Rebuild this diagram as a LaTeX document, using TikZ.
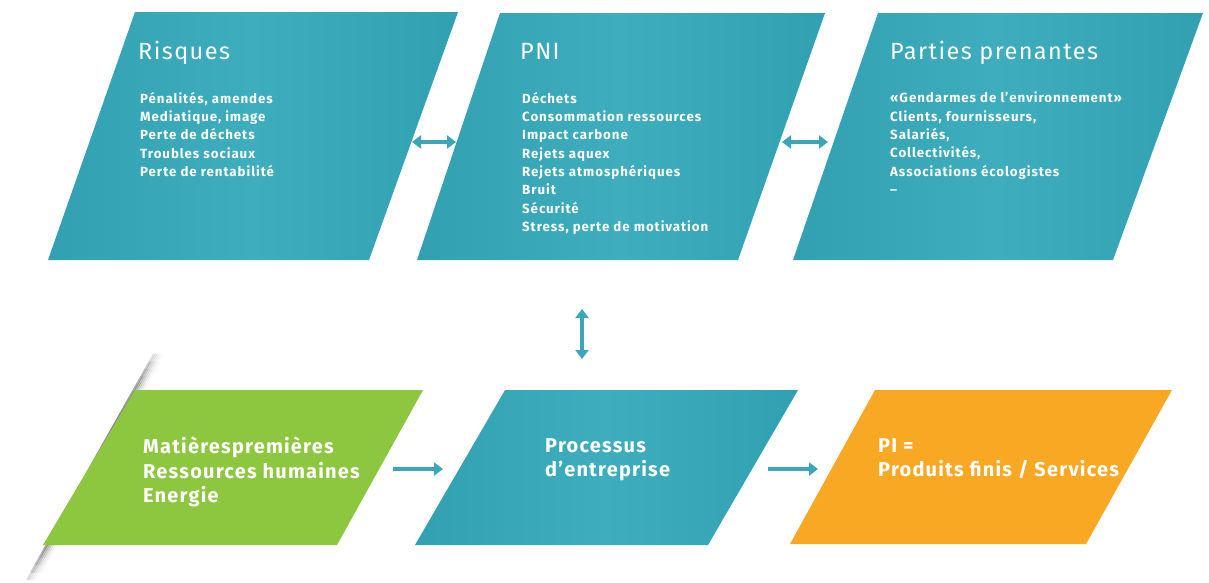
\documentclass[tikz,border=0pt]{standalone}
\usepackage{fontspec}
\setmainfont{Fira Sans}[LetterSpace=4]
\usetikzlibrary{arrows.meta}
\definecolor{tealL}{HTML}{3EADBD}
\definecolor{tealD}{HTML}{31A1B2}
\definecolor{arrowc}{HTML}{3AA6B7}
\definecolor{greenB}{HTML}{8DC63F}
\definecolor{orangeB}{HTML}{F9A823}
\begin{document}
\begin{tikzpicture}[x=1pt,y=-1pt,
  tealbox/.style={left color=tealD,right color=tealD,middle color=tealL,shading angle=90},
  title/.style={anchor=base west,text=white,inner sep=0pt,font=\fontsize{23.5}{26}\selectfont\addfontfeatures{LetterSpace=6}},
  body/.style={anchor=north west,align=left,text=white,inner sep=0pt,font=\bfseries\fontsize{13.3}{18.3}\selectfont\addfontfeatures{LetterSpace=7}},
  big/.style={anchor=north west,align=left,text=white,inner sep=0pt,font=\bfseries\fontsize{20}{24.5}\selectfont\addfontfeatures{LetterSpace=6}},
  link/.style={draw=arrowc,line width=4pt,{Triangle[length=9pt,width=13pt]}-{Triangle[length=9pt,width=13pt]}},
  flow/.style={draw=arrowc,line width=4pt,-{Triangle[length=9pt,width=13pt]}}]
\useasboundingbox (0,0) rectangle (1209,582);
\fill[white] (0,0) rectangle (1209,582);
% shadow behind the green box
\foreach \d/\f in {1/1,3/0.75,5/0.5,7/0.3,9/0.15,11/0.07}{
  \foreach \i in {0,...,29}{
    \pgfmathsetmacro{\ta}{\i/30}
    \pgfmathsetmacro{\tb}{(\i+1)/30}
    \pgfmathsetmacro{\op}{0.5*\f*sin(180*(\ta+\tb)/2)^0.5}
    \draw[black,opacity=\op,line width=2.2pt] (153+\d-127*\ta,354+226*\ta) -- (153+\d-127*\tb,354+226*\tb);
  }
}
% top row
\shade[tealbox] (135,12) -- (458,12) -- (369,260) -- (48,260) -- cycle;
\shade[tealbox] (500,13) -- (825,13) -- (738,260) -- (417,260) -- cycle;
\shade[tealbox] (878,13) -- (1203,13) -- (1113,260) -- (793,260) -- cycle;
% bottom row
\fill[greenB] (135,390) -- (423,390) -- (337,545) -- (43,545) -- cycle;
\shade[tealbox] (505,390) -- (798,390) -- (708,545) -- (415,545) -- cycle;
\fill[orangeB] (875,390) -- (1172,390) -- (1086,544) -- (790,544) -- cycle;
% texts
\node[title] (risques) at (138,59) {Risques};
\node[body] (risquesL) at (140,92) {Pénalités, amendes\\Mediatique, image\\Perte de déchets\\Troubles sociaux\\Perte de rentabilité};
\node[title] (pni) at (520,59) {PNI};
\node[body] (pniL) at (522,92) {Déchets\\Consommation ressources\\Impact carbone\\Rejets aquex\\Rejets atmosphériques\\Bruit\\Sécurité\\Stress, perte de motivation};
\node[title] (pp) at (890,59) {Parties prenantes};
\node[body] (ppL) at (890,92) {«Gendarmes de l’environnement»\\Clients, fournisseurs,\\Salariés,\\Collectivités,\\Associations écologistes\\–};
\node[big] (entrees) at (143,437) {Matièrespremières\\Ressources humaines\\Energie};
\node[big] (processus) at (545,438) {Processus\\d’entreprise};
\node[big] (sorties) at (878,438) {PI =\\Produits finis / Services};
% connectors
\coordinate (a1s) at (412,142); \coordinate (a1e) at (456,142);
\coordinate (a2s) at (782,142); \coordinate (a2e) at (828,142);
\coordinate (a3s) at (582,309); \coordinate (a3e) at (582,359);
\coordinate (a4s) at (393,469); \coordinate (a4e) at (443,469);
\coordinate (a5s) at (768,469); \coordinate (a5e) at (818,469);
\draw[link] (a1s) -- (a1e);
\draw[link] (a2s) -- (a2e);
\draw[link] (a3s) -- (a3e);
\draw[flow] (a4s) -- (a4e);
\draw[flow] (a5s) -- (a5e);
\end{tikzpicture}
\end{document}
